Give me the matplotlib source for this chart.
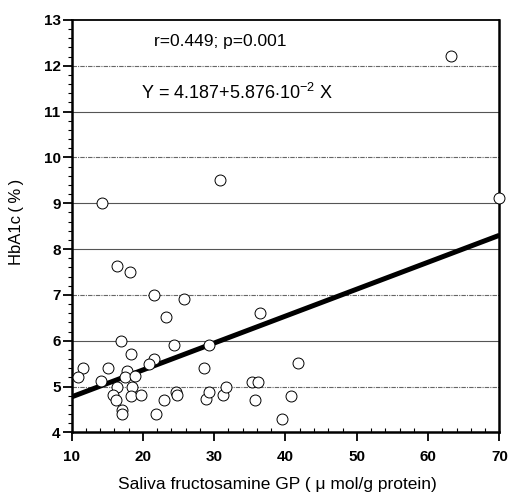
import matplotlib
matplotlib.use('Agg')
import matplotlib.pyplot as plt
from matplotlib.ticker import MultipleLocator
import numpy as np

plt.rcParams['font.family'] = ['Liberation Sans', 'DejaVu Sans']
plt.rcParams['mathtext.fontset'] = 'custom'
plt.rcParams['mathtext.rm'] = 'Liberation Sans'
plt.rcParams['mathtext.it'] = 'Liberation Sans:italic'

# saliva fructosamine GP (umol/g protein) vs HbA1c (%)
gp = [16.4, 18.2, 21.5, 25.8, 23.2, 16.9, 24.4, 29.2, 18.3, 21.5,
      20.8, 11.6, 15.1, 28.5, 10.9, 17.7, 17.5, 18.9, 14.1, 16.3,
      18.4, 15.8, 16.2, 18.3, 19.8, 17.1, 17.1, 21.8, 22.9, 24.6,
      24.8, 28.8, 29.2, 31.2, 31.6, 30.8, 70.0, 36.4, 41.7, 35.3,
      36.1, 35.7, 40.8, 39.5, 14.2, 63.2]
hba1c = [7.62, 7.51, 7.00, 6.91, 6.51, 6.00, 5.90, 5.91, 5.70, 5.61,
         5.50, 5.41, 5.41, 5.41, 5.21, 5.33, 5.20, 5.22, 5.12, 5.00,
         5.00, 4.81, 4.70, 4.80, 4.81, 4.48, 4.40, 4.41, 4.70, 4.89,
         4.81, 4.72, 4.88, 4.81, 5.00, 9.51, 9.11, 6.60, 5.51, 5.11,
         5.11, 4.71, 4.80, 4.30, 9.00, 12.22]

intercept = 4.187
slope = 5.876e-2
fit_x = np.array([10, 70])

solid_grid = [6, 8, 9, 11]
dotted_grid = [5, 7, 10, 12]

fig = plt.figure(figsize=(5.08, 4.97), dpi=100)
ax = fig.add_axes([0.141, 0.130, 0.842, 0.830])

for g in solid_grid:
    ax.axhline(g, color='#555555', lw=0.8, zorder=1)
for g in dotted_grid:
    ax.axhline(g, color='#666666', lw=0.8, ls=(0, (4, 1, 1, 1)), zorder=1)

ax.plot(fit_x, intercept + slope * fit_x, color='black', lw=3.6,
        solid_capstyle='butt', zorder=2)
ax.scatter(gp, hba1c, s=62, facecolor='white', edgecolor='black',
           linewidths=0.7, zorder=3, clip_on=False)

ax.set_xlim(10, 70)
ax.set_ylim(4, 13)
ax.xaxis.set_major_locator(MultipleLocator(10))
ax.xaxis.set_minor_locator(MultipleLocator(2))
ax.yaxis.set_major_locator(MultipleLocator(1))
ax.yaxis.set_minor_locator(MultipleLocator(0.2))
ax.tick_params(axis='both', which='major', direction='out', length=6.5,
               width=1.3, labelsize=11)
ax.tick_params(axis='x', which='major', pad=6)
ax.tick_params(axis='y', which='major', pad=1.5)
ax.tick_params(axis='x', which='minor', direction='in', length=3, width=0.8)
ax.tick_params(axis='y', which='minor', direction='out', length=3, width=0.8)
for lab in ax.get_xticklabels() + ax.get_yticklabels():
    lab.set_fontweight('bold')

for side in ['left', 'bottom', 'right']:
    ax.spines[side].set_linewidth(1.8)
ax.spines['top'].set_linewidth(1.3)

ax.set_xlabel('Saliva fructosamine GP ( \u03bc mol/g protein)',
              fontsize=12.5)
ax.xaxis.set_label_coords(0.481, -0.107)
ax.set_ylabel('HbA1c\u2009(\u2009%\u2009)', fontsize=12)
ax.yaxis.set_label_coords(-0.111, 0.51)

ax.text(21.6, 12.52, 'r=0.449; p=0.001', fontsize=12.5, va='center')
ax.text(19.8, 11.4, r'Y = 4.187+5.876$\cdot$10$^{-2}$ X', fontsize=13,
        va='center')

fig.savefig('out.png', dpi=100)
